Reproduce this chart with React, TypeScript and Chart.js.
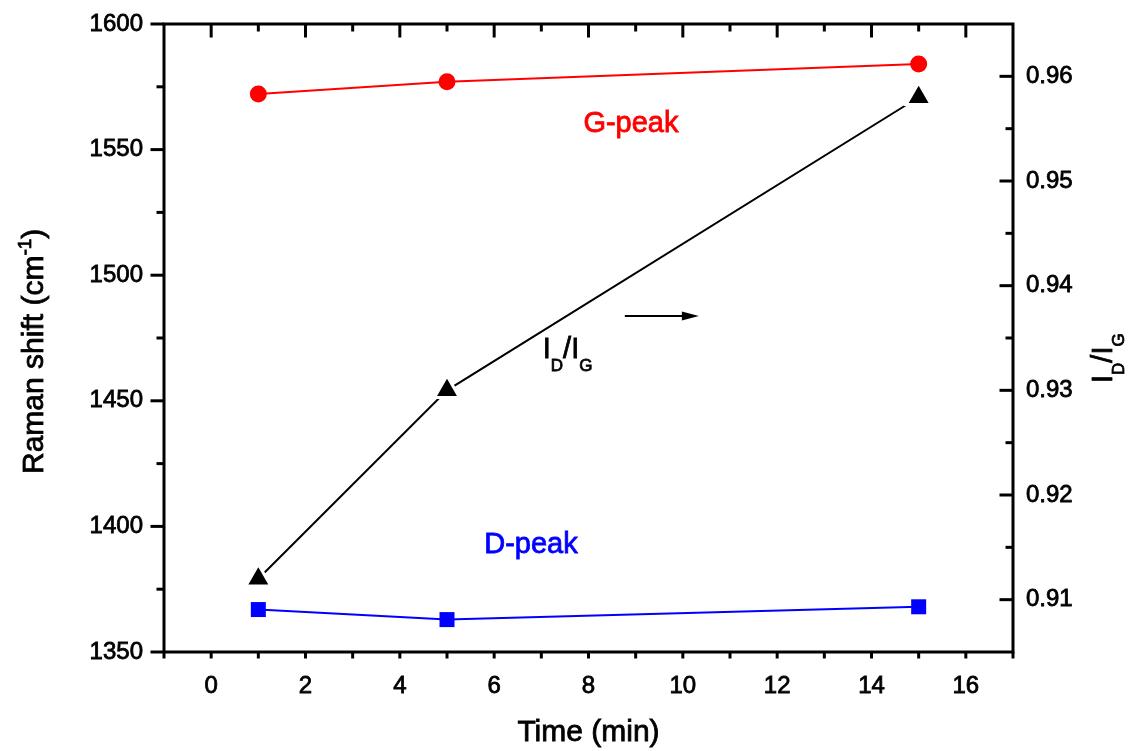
import React, { useEffect, useRef } from 'react';
import { Chart, registerables } from 'chart.js';

Chart.register(...registerables);

// ---- data ----
const times = [1, 5, 15];
const gPeak = [1572.1, 1577.0, 1584.1];
const dPeak = [1366.9, 1362.9, 1368.0];
const ratio = [0.912, 0.930, 0.958];

// ---- ticks ----
const xMajorTicks = [0, 2, 4, 6, 8, 10, 12, 14, 16];
const xMinorTicks = [1, 3, 5, 7, 9, 11, 13, 15];
const leftMajorTicks = [1350, 1400, 1450, 1500, 1550, 1600];
const leftMinorTicks = [1375, 1425, 1475, 1525, 1575];
const rightMajorTicks = [0.91, 0.92, 0.93, 0.94, 0.95, 0.96];
const rightMinorTicks = [0.915, 0.925, 0.935, 0.945, 0.955];

// ---- annotation anchors (data units) ----
const gLabel = { x: 8.9, y: 1557 };
const dLabel = { x: 6.78, y: 1389.4 };
const ratioLabel = { x: 7.03, y: 1467 };
const arrowFrom = { x: 8.77, y: 1483.8 };
const arrowTo = { x: 10.34, y: 1483.8 };

const FONT = '"Liberation Sans", Arial, Helvetica, sans-serif';
const TEXT_STROKE = 0.8;

function fillStroke(ctx: CanvasRenderingContext2D, t: string, x: number, y: number) {
  ctx.fillText(t, x, y);
  ctx.strokeText(t, x, y);
}

function drawSubText(ctx: CanvasRenderingContext2D, parts: [string, boolean][], x: number, y: number, main: number, sub: number, drop: number) {
  let cx = x;
  for (const [t, isSub] of parts) {
    ctx.font = `${isSub ? sub : main}px ${FONT}`;
    fillStroke(ctx, t, cx, isSub ? y + drop : y);
    cx += ctx.measureText(t).width;
  }
}

const decor = {
  id: 'decor',
  afterDraw(chart: any) {
    const { ctx, chartArea: a, scales } = chart;
    const xs = scales.x, ys = scales.y, y1s = scales.y1;
    ctx.save();
    ctx.strokeStyle = '#000';
    ctx.fillStyle = '#000';
    ctx.lineWidth = 3;
    ctx.strokeRect(a.left, a.top, a.right - a.left, a.bottom - a.top);
    const seg = (x0: number, yA: number, x1: number, yB: number) => {
      ctx.beginPath();
      ctx.moveTo(x0, yA);
      ctx.lineTo(x1, yB);
      ctx.stroke();
    };
    // left axis (outward)
    leftMajorTicks.forEach(v => { const p = ys.getPixelForValue(v); seg(a.left - 13.5, p, a.left, p); });
    leftMinorTicks.forEach(v => { const p = ys.getPixelForValue(v); seg(a.left - 7.5, p, a.left, p); });
    // right axis (inward)
    rightMajorTicks.forEach(v => { const p = y1s.getPixelForValue(v); seg(a.right - 13.5, p, a.right, p); });
    rightMinorTicks.forEach(v => { const p = y1s.getPixelForValue(v); seg(a.right - 7.5, p, a.right, p); });
    // bottom axis (outward)
    [...xMajorTicks, ...xMinorTicks, -1, 17].forEach(v => { const p = xs.getPixelForValue(v); seg(p, a.bottom, p, a.bottom + 6.5); });
    // top axis (inward)
    xMajorTicks.forEach(v => { const p = xs.getPixelForValue(v); seg(p, a.top, p, a.top + 13.5); });
    xMinorTicks.forEach(v => { const p = xs.getPixelForValue(v); seg(p, a.top, p, a.top + 7.5); });

    // annotations
    ctx.lineWidth = TEXT_STROKE;
    ctx.textBaseline = 'alphabetic';
    ctx.textAlign = 'center';
    ctx.font = `29px ${FONT}`;
    ctx.fillStyle = '#ff0000';
    ctx.strokeStyle = '#ff0000';
    fillStroke(ctx, 'G-peak', xs.getPixelForValue(gLabel.x), ys.getPixelForValue(gLabel.y));
    ctx.fillStyle = '#0000ff';
    ctx.strokeStyle = '#0000ff';
    fillStroke(ctx, 'D-peak', xs.getPixelForValue(dLabel.x), ys.getPixelForValue(dLabel.y));
    ctx.fillStyle = '#000';
    ctx.strokeStyle = '#000';
    ctx.textAlign = 'left';
    const ratioParts: [string, boolean][] = [['I', false], ['D', true], ['/', false], ['I', false], ['G', true]];
    drawSubText(ctx, ratioParts, xs.getPixelForValue(ratioLabel.x), ys.getPixelForValue(ratioLabel.y), 29, 17, 13);

    // arrow
    const ax0 = xs.getPixelForValue(arrowFrom.x);
    const ax1 = xs.getPixelForValue(arrowTo.x);
    const ay = ys.getPixelForValue(arrowFrom.y);
    ctx.lineWidth = 2;
    seg(ax0, ay, ax1 - 10, ay);
    ctx.beginPath();
    ctx.moveTo(ax1, ay);
    ctx.lineTo(ax1 - 17, ay - 4.5);
    ctx.lineTo(ax1 - 17, ay + 4.5);
    ctx.closePath();
    ctx.fill();

    // axis titles
    ctx.lineWidth = TEXT_STROKE;
    ctx.textAlign = 'center';
    ctx.font = `30px ${FONT}`;
    fillStroke(ctx, 'Time (min)', (a.left + a.right) / 2, a.bottom + 89);

    // left title (rotated, with superscript)
    ctx.save();
    ctx.translate(a.left - 121, a.bottom - 178);
    ctx.rotate(-Math.PI / 2);
    ctx.textAlign = 'left';
    drawSubText(ctx, [['Raman shift (cm', false], ['-1', true], [')', false]], 0, 0, 30, 19, -12);
    ctx.restore();

    // right title (rotated, with subscripts)
    ctx.save();
    ctx.translate(a.right + 99, (a.top + a.bottom) / 2 + 45);
    ctx.rotate(-Math.PI / 2);
    ctx.textAlign = 'left';
    drawSubText(ctx, ratioParts, 0, 0, 29, 17, 12);
    ctx.restore();

    ctx.restore();
  },
};

export default function App() {
  const ref = useRef<HTMLCanvasElement | null>(null);
  useEffect(() => {
    document.body.style.margin = '0';
    const canvas = ref.current;
    if (!canvas) return;
    const tickFont = { family: FONT, size: 24 };
    const tickBase = { color: '#000', font: tickFont, textStrokeColor: '#000', textStrokeWidth: TEXT_STROKE, autoSkip: false };
    const chart = new Chart(canvas, {
      type: 'line',
      data: {
        datasets: [
          {
            label: 'G-peak',
            data: times.map((t, i) => ({ x: t, y: gPeak[i] })),
            yAxisID: 'y',
            borderColor: '#ff0000',
            borderWidth: 2,
            backgroundColor: '#ff0000',
            pointStyle: 'circle',
            pointRadius: 8.5,
            pointBackgroundColor: '#ff0000',
            pointBorderWidth: 0,
            tension: 0,
            fill: false,
          },
          {
            label: 'D-peak',
            data: times.map((t, i) => ({ x: t, y: dPeak[i] })),
            yAxisID: 'y',
            borderColor: '#0000ff',
            borderWidth: 2,
            backgroundColor: '#0000ff',
            pointStyle: 'rect',
            pointRadius: 10.6,
            pointBackgroundColor: '#0000ff',
            pointBorderWidth: 0,
            tension: 0,
            fill: false,
          },
          {
            label: 'ID/IG',
            data: times.map((t, i) => ({ x: t, y: ratio[i] })),
            yAxisID: 'y1',
            borderColor: '#000000',
            borderWidth: 2,
            backgroundColor: '#000000',
            pointStyle: 'triangle',
            pointRadius: 14.5,
            pointBackgroundColor: '#000000',
            pointBorderColor: '#ffffff',
            pointBorderWidth: 3,
            tension: 0,
            fill: false,
          },
        ],
      },
      options: {
        animation: false,
        responsive: false,
        devicePixelRatio: 1,
        events: [],
        layout: { padding: { top: 24, left: 0, right: 0, bottom: 0 } },
        plugins: {
          legend: { display: false },
          tooltip: { enabled: false },
          title: { display: false },
        },
        scales: {
          x: {
            type: 'linear',
            position: 'bottom',
            min: -1,
            max: 17,
            afterBuildTicks: (s: any) => { s.ticks = xMajorTicks.map(v => ({ value: v })); },
            afterFit: (s: any) => { s.height = 99; s.paddingLeft = 0; s.paddingRight = 0; },
            grid: { display: false, drawTicks: false },
            border: { display: false },
            ticks: { ...tickBase, padding: 20, maxRotation: 0, callback: (v: any) => String(v) },
          },
          y: {
            type: 'linear',
            position: 'left',
            min: 1350,
            max: 1600,
            afterBuildTicks: (s: any) => { s.ticks = leftMajorTicks.map(v => ({ value: v })); },
            afterFit: (s: any) => { s.width = 164; s.paddingTop = 0; s.paddingBottom = 0; },
            grid: { display: false, drawTicks: false },
            border: { display: false },
            ticks: { ...tickBase, padding: 21, callback: (v: any) => String(v) },
          },
          y1: {
            type: 'linear',
            position: 'right',
            min: 0.905,
            max: 0.965,
            afterBuildTicks: (s: any) => { s.ticks = rightMajorTicks.map(v => ({ value: v })); },
            afterFit: (s: any) => { s.width = 133; s.paddingTop = 0; s.paddingBottom = 0; },
            grid: { display: false, drawTicks: false },
            border: { display: false },
            ticks: { ...tickBase, padding: 13, callback: (v: any) => Number(v).toFixed(2) },
          },
        },
      },
      plugins: [decor],
    } as any);
    return () => chart.destroy();
  }, []);
  return (
    <div style={{ position: 'absolute', left: 0, top: 0, width: 1146, height: 751, background: '#fff' }}>
      <canvas ref={ref} width={1146} height={751} style={{ display: 'block', width: 1146, height: 751 }} />
    </div>
  );
}
